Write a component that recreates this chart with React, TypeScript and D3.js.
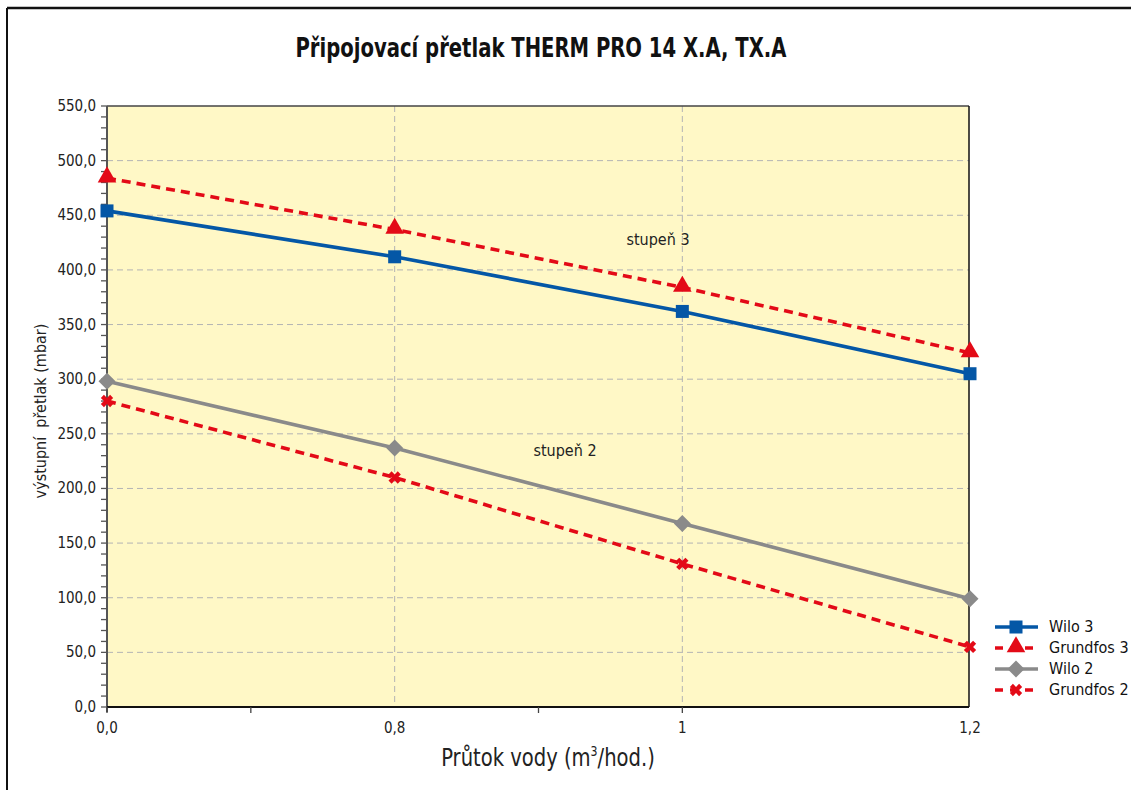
import React from 'react';
import * as d3 from 'd3';

const width = 1131;
const height = 790;
const margin = { top: 106, left: 107, right: 162, bottom: 83 };

const categories = ['0,0', '0,8', '1', '1,2'];
const wilo3 = [454, 412, 362, 305];
const grundfos3 = [484, 437, 384, 324];
const wilo2 = [298, 237, 168, 99];
const grundfos2 = [280, 210, 131, 55];
const yTicks = [0, 50, 100, 150, 200, 250, 300, 350, 400, 450, 500, 550];
const xTickSpots = [0, 0.5, 1.5, 2];

const series = [
  { name: 'Wilo 3', values: wilo3, color: '#0457a6', dash: null, marker: 'square' },
  { name: 'Grundfos 3', values: grundfos3, color: '#e30a17', dash: '9,6', marker: 'triangle' },
  { name: 'Wilo 2', values: wilo2, color: '#8a8a8a', dash: null, marker: 'diamond' },
  { name: 'Grundfos 2', values: grundfos2, color: '#e30a17', dash: '9,6', marker: 'cross' },
];

const font = "'Liberation Sans Narrow', 'DejaVu Sans Condensed', 'Roboto Condensed', 'Arial Narrow', sans-serif";
const fmt = (v: number) => d3.format('.1f')(v).replace('.', ',');

function Marker({ type, x, y, color }: { type: string; x: number; y: number; color: string }) {
  if (type === 'square') return <rect x={x - 6.5} y={y - 6.5} width={13} height={13} fill={color} />;
  if (type === 'triangle') {
    const p = d3.symbol(d3.symbolTriangle, 150)();
    return <path d={p || ''} transform={`translate(${x},${y - 1})`} fill={color} />;
  }
  if (type === 'diamond') {
    return <path d={`M${x},${y - 8.5}L${x + 8.5},${y}L${x},${y + 8.5}L${x - 8.5},${y}Z`} fill={color} />;
  }
  const p = d3.symbol(d3.symbolCross, 95)();
  return <path d={p || ''} transform={`translate(${x},${y}) rotate(45)`} fill={color} />;
}

export default function App() {
  const x0 = margin.left;
  const x1 = width - margin.right;
  const y0 = height - margin.bottom;
  const y1 = margin.top;

  const x = d3.scaleLinear().domain([0, categories.length - 1]).range([x0, x1 + 1]);
  const y = d3.scaleLinear().domain([0, 550]).range([y0, y1]);
  const minor = d3.range(0, 551, 10);

  const line = d3.line<number>().x((_, i) => x(i)).y((d) => y(d));

  return (
    <svg width={width} height={height} style={{ display: 'block', position: 'absolute', left: 0, top: 0 }}>
      <rect x={0} y={0} width={width} height={height} fill="#fff" />
      {/* frame */}
      <line x1={7} y1={8} x2={width} y2={8} stroke="#111" strokeWidth={2.5} />
      <line x1={7} y1={8} x2={7} y2={height} stroke="#111" strokeWidth={2} />

      <text x={541} y={57} textAnchor="middle" fontFamily={font} fontWeight="bold" fontSize={27}
        textLength={491} lengthAdjust="spacingAndGlyphs" fill="#111">
        Připojovací přetlak THERM PRO 14 X.A, TX.A
      </text>

      {/* plot background */}
      <rect x={x0} y={y1} width={x1 - x0} height={y0 - y1} fill="#fff8c6" />

      {/* gridlines */}
      {yTicks.slice(1, -1).map((t) => (
        <line key={t} x1={x0} x2={x1} y1={y(t)} y2={y(t)} stroke="#b4b4b4" strokeWidth={1} strokeDasharray="6,4" />
      ))}
      {categories.slice(1, -1).map((c, i) => (
        <line key={c} x1={x(i + 1)} x2={x(i + 1)} y1={y1} y2={y0} stroke="#b4b4b4" strokeWidth={1} strokeDasharray="6,4" />
      ))}

      {/* plot border */}
      <line x1={x0} x2={x1} y1={y1} y2={y1} stroke="#444" strokeWidth={1.5} />
      <line x1={x1} x2={x1} y1={y1} y2={y0} stroke="#111" strokeWidth={1.5} />

      {/* y axis */}
      <line x1={x0} x2={x0} y1={y1} y2={y0 + 5} stroke="#555" strokeWidth={2} />
      {minor.map((t) => (
        <line key={t} x1={x0 - 6} x2={x0} y1={y(t)} y2={y(t)} stroke="#555" strokeWidth={1.3} />
      ))}
      {yTicks.map((t) => (
        <text key={t} x={x0 - 11} y={y(t) + 5} textAnchor="end" fontFamily={font} fontSize={15} fill="#222">
          {fmt(t)}
        </text>
      ))}
      <text transform={`translate(46,${411}) rotate(-90)`} textAnchor="middle" fontFamily={font} fontSize={16} fill="#222">
        {'výstupní\u00a0\u00a0přetlak (mbar)'}
      </text>

      {/* x axis */}
      <line x1={x0} x2={x1} y1={y0} y2={y0} stroke="#111" strokeWidth={2} />
      {xTickSpots.map((t) => (
        <line key={t} x1={x(t)} x2={x(t)} y1={y0} y2={y0 + 6} stroke="#444" strokeWidth={1.3} />
      ))}
      {categories.map((c, i) => (
        <text key={c} x={x(i)} y={y0 + 26} textAnchor="middle" fontFamily={font} fontSize={15} fill="#222">
          {c}
        </text>
      ))}
      <text transform="translate(548,766) scale(0.87,1)" textAnchor="middle" fontFamily={font} fontSize={25} fill="#222">
        Průtok vody (m<tspan fontSize={14} dy={-10}>3</tspan><tspan dy={10}>/hod.)</tspan>
      </text>

      {/* series */}
      {series.map((s) => (
        <g key={s.name}>
          <path d={line(s.values) || ''} fill="none" stroke={s.color} strokeWidth={3.6}
            strokeDasharray={s.dash || undefined} />
          {s.values.map((v, i) => (
            <Marker key={i} type={s.marker} x={x(i)} y={y(v)} color={s.color} />
          ))}
        </g>
      ))}

      <text x={658} y={245} textAnchor="middle" fontFamily={font} fontSize={16} fill="#222">stupeň 3</text>
      <text x={565} y={456} textAnchor="middle" fontFamily={font} fontSize={16} fill="#222">stupeň 2</text>

      {/* legend */}
      {series.map((s, i) => {
        const ly = 627 + i * 21;
        return (
          <g key={s.name}>
            <line x1={995} x2={1038} y1={ly} y2={ly} stroke={s.color} strokeWidth={3.6}
              strokeDasharray={s.dash ? '8,7' : undefined} />
            <Marker type={s.marker} x={1016} y={ly} color={s.color} />
            <text x={1049} y={ly + 5} fontFamily={font} fontSize={16} fill="#111">{s.name}</text>
          </g>
        );
      })}
    </svg>
  );
}
